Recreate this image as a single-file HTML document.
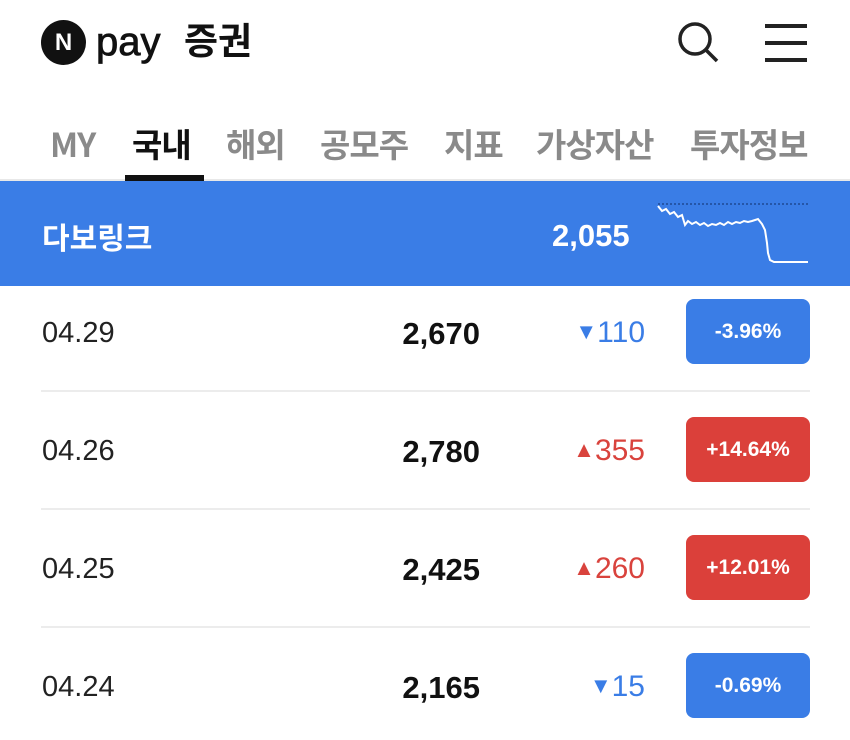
<!DOCTYPE html>
<html><head><meta charset="utf-8"><style>
body{margin:0;width:850px;height:740px;background:#fff;position:relative;overflow:hidden;font-family:"Liberation Sans","Noto Sans CJK KR",sans-serif;}
.a{position:absolute;white-space:nowrap;}
.tab{position:absolute;top:119px;font-size:33px;font-weight:bold;color:#8a8a8a;letter-spacing:-1px;font-family:"Noto Sans CJK KR",sans-serif}
.date{position:absolute;left:42px;top:0;font-size:29px;color:#222}
.price{position:absolute;right:370px;font-size:31px;font-weight:bold;color:#111}
.chg{position:absolute;right:205px;font-size:30px}
.ar{font-size:22px;vertical-align:3px}
.badge{position:absolute;left:686px;width:124px;height:65px;border-radius:8px;color:#fff;font-size:21px;font-weight:bold;text-align:center;line-height:65px}
.div{position:absolute;left:41px;width:769px;height:2px;background:#ececec}
</style></head><body>
<div class="a" style="left:41px;top:20px;width:45px;height:45px;border-radius:50%;background:#111;color:#fff;font-weight:bold;font-size:24px;text-align:center;line-height:45px">N</div>
<div class="a" style="left:96px;top:22px;font-size:40px;line-height:40px;color:#111;-webkit-text-stroke:0.8px #111">pay</div>
<div class="a" style="left:184px;top:11px;font-size:37px;font-weight:bold;color:#111;font-family:'Noto Sans CJK KR',sans-serif">증권</div>
<svg class="a" style="left:676px;top:20px" width="44" height="44"><circle cx="19" cy="19" r="15" fill="none" stroke="#222" stroke-width="3.5"/><line x1="30" y1="30" x2="41" y2="41" stroke="#222" stroke-width="3.5"/></svg>
<div class="a" style="left:765px;top:24px;width:42px;height:4px;background:#222"></div>
<div class="a" style="left:765px;top:41px;width:42px;height:4px;background:#222"></div>
<div class="a" style="left:765px;top:58px;width:42px;height:4px;background:#222"></div>
<div class="tab" style="left:50px">MY</div>
<div class="tab" style="left:132px;color:#111">국내</div>
<div class="tab" style="left:226px">해외</div>
<div class="tab" style="left:320px">공모주</div>
<div class="tab" style="left:444px">지표</div>
<div class="tab" style="left:536px">가상자산</div>
<div class="tab" style="left:690px">투자정보</div>
<div class="a" style="left:0;top:179px;width:850px;height:2px;background:#e8e8e8"></div>
<div class="a" style="left:125px;top:175px;width:79px;height:6px;background:#111"></div>
<div class="a" style="left:0;top:181px;width:850px;height:105px;background:#3a7de6"></div>
<div class="a" style="left:42px;top:214px;font-size:30px;font-weight:bold;color:#fff">다보링크</div>
<div class="a" style="left:552px;top:218px;font-size:31px;font-weight:bold;color:#fff">2,055</div>
<svg class="a" style="left:650px;top:195px" width="165" height="80">
<line x1="8" y1="9" x2="160" y2="9" stroke="#10306a" stroke-width="1" stroke-dasharray="2,2"/>
<polyline fill="none" stroke="#fff" stroke-width="2" points="8,11 12,16 16,14 20,19 24,17 28,22 32,20 35,30 38,26 42,29 46,27 50,30 54,28 58,31 62,29 66,30 70,28 74,30 78,27 82,29 86,27 90,28 94,26 98,27 102,26 108,24 112,29 115,35 117,48 118,58 120,65 124,67 158,67"/>
</svg>
<div class="date" style="top:317px">04.29</div><div class="price" style="top:316px">2,670</div>
<div class="chg" style="top:316px;color:#3a7de6"><span class="ar">▼</span>110</div>
<div class="badge" style="top:299px;background:#3a7de6">-3.96%</div>
<div class="div" style="top:390px"></div>
<div class="date" style="top:435px">04.26</div><div class="price" style="top:434px">2,780</div>
<div class="chg" style="top:434px;color:#d9433d"><span class="ar">▲</span>355</div>
<div class="badge" style="top:417px;background:#db403a">+14.64%</div>
<div class="div" style="top:508px"></div>
<div class="date" style="top:553px">04.25</div><div class="price" style="top:552px">2,425</div>
<div class="chg" style="top:552px;color:#d9433d"><span class="ar">▲</span>260</div>
<div class="badge" style="top:535px;background:#db403a">+12.01%</div>
<div class="div" style="top:626px"></div>
<div class="date" style="top:671px">04.24</div><div class="price" style="top:670px">2,165</div>
<div class="chg" style="top:670px;color:#3a7de6"><span class="ar">▼</span>15</div>
<div class="badge" style="top:653px;background:#3a7de6">-0.69%</div>
</body></html>
